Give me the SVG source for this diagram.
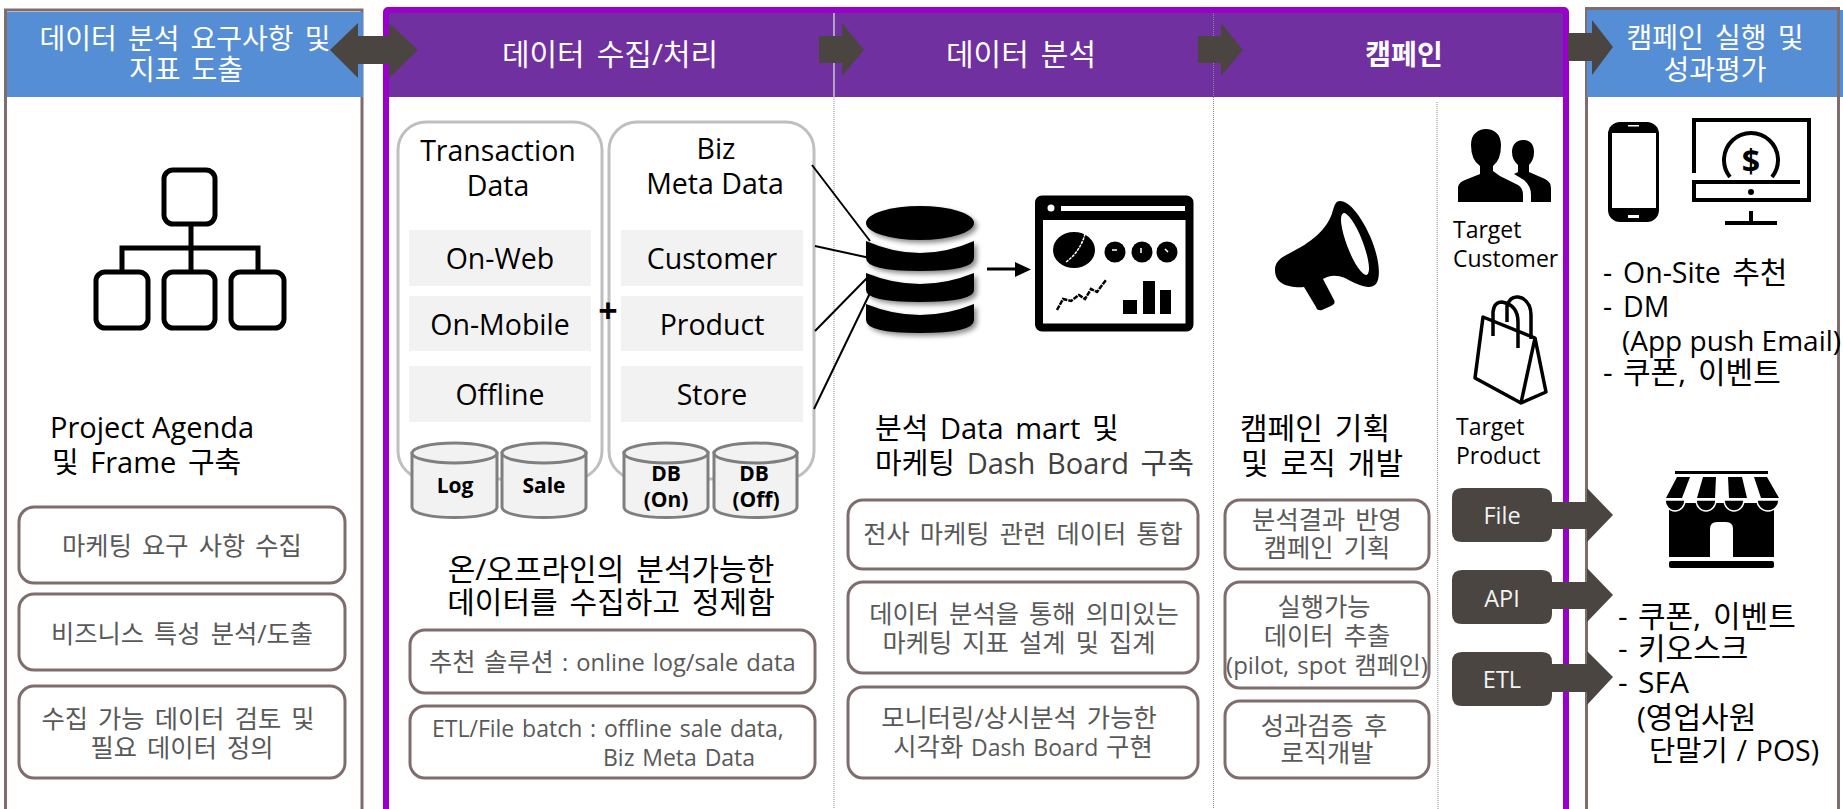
<svg xmlns="http://www.w3.org/2000/svg" width="1843" height="809" viewBox="0 0 1843 809">
<style>
text{font-family:"Open Sans","Noto Sans CJK KR",sans-serif;fill:#000;word-spacing:.14em}
.m{text-anchor:middle}
.hd{font-size:28px;fill:#fff}
.hc{font-size:30px;fill:#fff}
.la{font-size:28.5px;word-spacing:0}
.ko{font-size:30px}
.t23{font-size:23px;fill:#595959;word-spacing:.08em}
.t25{font-size:25.3px;fill:#595959}
.hg{font-size:25.3px}
.t24{font-size:23px;word-spacing:0}
.lb{font-size:21px;font-weight:700;text-anchor:middle;word-spacing:0}
.wh{font-size:23.500px;fill:#f2f2f2;text-anchor:middle;word-spacing:0}
.box{fill:#fff;stroke:#7f6d6d;stroke-width:3}
.cell{fill:#f2f2f2}
.pan{fill:#fff;stroke:#bfbfbf;stroke-width:3}
.cyl{fill:#f2f2f2;stroke:#7f7f7f;stroke-width:3}
.sep{stroke:#8c8c8c;stroke-width:1;stroke-dasharray:1 1;fill:none}
.ar{fill:#4b4541}
.ln{stroke:#000;stroke-width:2;fill:none}
.ic{fill:none;stroke:#000;stroke-width:5}
</style>
<defs>
<filter id="sh" x="-20%" y="-20%" width="150%" height="150%"><feDropShadow dx="3" dy="3" stdDeviation="2.5" flood-color="#000" flood-opacity=".45"/></filter>
</defs>
<rect width="1843" height="809" fill="#fff"/>

<g id="panel-requirements">
<rect x="5.500" y="10" width="356.500" height="810" fill="#fff" stroke="#7f6d6d" stroke-width="3"/>
<rect x="7" y="12" width="356" height="85" fill="#558ed5"/>
<text class="hd m" x="185" y="49">데이터 분석 요구사항 및</text>
<text class="hd m" x="186" y="80">지표 도출</text>
<g id="icon-org" class="ic">
<rect x="164" y="170" width="51" height="54" rx="9"/>
<rect x="96" y="272" width="52" height="56" rx="9"/>
<rect x="164" y="272" width="51" height="56" rx="9"/>
<rect x="231" y="272" width="53" height="56" rx="9"/>
<path d="M191 224V272M122 272V248H258V272"/>
</g>
<text class="la" x="50" y="438" style="font-size:29px">Project Agenda</text>
<text class="ko" x="52" y="473" style="font-size:29px">및 Frame 구축</text>
<rect class="box" x="19" y="507" width="326" height="76" rx="15"/>
<text class="t25 m" x="182" y="555">마케팅 요구 사항 수집</text>
<rect class="box" x="19" y="594" width="326" height="76" rx="15"/>
<text class="t25 m" x="182" y="643">비즈니스 특성 분석/도출</text>
<rect class="box" x="19" y="686" width="326" height="92" rx="15"/>
<text class="t25 m" x="178" y="728">수집 가능 데이터 검토 및</text>
<text class="t25 m" x="182" y="757">필요 데이터 정의</text>
</g>

<g id="panel-process">
<rect x="386" y="10" width="1180" height="810" rx="2" fill="#fff" stroke="#9900cc" stroke-width="6"/>
<rect x="389" y="13" width="1174" height="84" fill="#7030a0"/>
<path d="M834 13V97" stroke="#c9c9c9" stroke-width="1.500"/>
<path class="sep" d="M834 97V809M1213.500 13V809M1437 102L1438 809"/>
<text class="hc m" x="610" y="65">데이터 수집/처리</text>
<text class="hc m" x="1021" y="65">데이터 분석</text>
<text class="hd m" x="1404" y="65" font-weight="700">캠페인</text>
</g>

<g id="panel-collect">
<rect class="pan" x="398" y="122" width="204" height="357" rx="28"/>
<rect class="pan" x="609" y="122" width="205" height="357" rx="28"/>
<text class="la m" x="498" y="161">Transaction</text>
<text class="la m" x="498" y="196">Data</text>
<text class="la m" x="716" y="159">Biz</text>
<text class="la m" x="715" y="194">Meta Data</text>
<rect class="cell" x="409" y="230" width="182" height="56"/><text class="la m" x="500" y="269">On-Web</text>
<rect class="cell" x="409" y="296" width="182" height="55"/><text class="la m" x="500" y="335">On-Mobile</text>
<rect class="cell" x="409" y="366" width="182" height="56"/><text class="la m" x="500" y="405">Offline</text>
<rect class="cell" x="621" y="230" width="182" height="56"/><text class="la m" x="712" y="269">Customer</text>
<rect class="cell" x="621" y="296" width="182" height="55"/><text class="la m" x="712" y="335">Product</text>
<rect class="cell" x="621" y="366" width="182" height="56"/><text class="la m" x="712" y="405">Store</text>
<text class="m" x="608" y="323" font-size="34" font-weight="700">+</text>
<g id="cyl-log"><path class="cyl" d="M412 453V507C412 521 497 521 497 507V453Z"/><ellipse class="cyl" cx="454.500" cy="453" rx="42.500" ry="10"/><text class="lb" x="455" y="493">Log</text></g>
<g id="cyl-sale"><path class="cyl" d="M502 453V507C502 521 586 521 586 507V453Z"/><ellipse class="cyl" cx="544" cy="453" rx="42" ry="10"/><text class="lb" x="544" y="493">Sale</text></g>
<g id="cyl-dbon"><path class="cyl" d="M624 453V507C624 521 708 521 708 507V453Z"/><ellipse class="cyl" cx="666" cy="453" rx="42" ry="10"/><text class="lb" x="666" y="481">DB</text><text class="lb" x="666" y="507">(On)</text></g>
<g id="cyl-dboff"><path class="cyl" d="M714 453V507C714 521 797 521 797 507V453Z"/><ellipse class="cyl" cx="755.500" cy="453" rx="41.500" ry="10"/><text class="lb" x="754" y="481">DB</text><text class="lb" x="756" y="507">(Off)</text></g>
<text class="ko m" x="611" y="580">온/오프라인의 분석가능한</text>
<text class="ko m" x="611" y="613">데이터를 수집하고 정제함</text>
<rect class="box" x="410" y="630" width="405" height="63" rx="15"/>
<text class="t23" x="429" y="671" style="font-size:23.700px"><tspan class="hg">추천 솔루션</tspan> : online log/sale data</text>
<rect class="box" x="410" y="706" width="405" height="72" rx="15"/>
<text class="t23" x="432" y="737">ETL/File batch : offline sale data,</text>
<text class="t23" x="603" y="766">Biz Meta Data</text>
</g>

<g id="panel-analysis">
<g id="icon-db" filter="url(#sh)">
<ellipse cx="920" cy="223" rx="54" ry="17"/>
<path d="M866 241Q920 265 974 241V258Q974 271 920 271Q866 271 866 258Z"/>
<path d="M866 273Q920 295 974 273V290Q974 302 920 302Q866 302 866 290Z"/>
<path d="M866 304Q920 326 974 304V320Q974 333 920 333Q866 333 866 320Z"/>
</g>
<g id="icon-dash">
<rect x="1039" y="199.500" width="150.500" height="128" rx="3" fill="#fff" stroke="#000" stroke-width="8"/>
<rect x="1040" y="200" width="148" height="20"/>
<rect x="1061" y="206" width="124" height="5" fill="#fff"/>
<circle cx="1051" cy="208" r="3.500" fill="#fff"/>
<ellipse cx="1074" cy="250" rx="21" ry="18"/>
<path d="M1066 262Q1080 252 1085 234" stroke="#fff" stroke-width="1.500" stroke-dasharray="3 1" fill="none"/>
<circle cx="1115" cy="252" r="10.500"/><circle cx="1142" cy="252" r="10.500"/><circle cx="1167" cy="252" r="10.500"/>
<path d="M1112 250h5M1141 248v5M1165 249l3 3" stroke="#fff" stroke-width="1.500"/>
<path d="M1057 310L1063 299L1071 301L1079 295L1085 299L1091 289L1097 292L1106 280" fill="none" stroke="#000" stroke-width="2.500" stroke-dasharray="5 1"/>
<rect x="1123" y="300" width="14" height="14"/><rect x="1143" y="281" width="12" height="33"/><rect x="1160" y="290" width="11" height="24"/>
</g>
<text class="ko" x="875" y="439" style="font-size:29px">분석 Data mart 및</text>
<text class="ko" x="875" y="474" style="font-size:29px">마케팅 <tspan fill="#404040">Dash Board 구축</tspan></text>
<rect class="box" x="848" y="500" width="350" height="69" rx="15"/>
<text class="t25 m" x="1023" y="543">전사 마케팅 관련 데이터 통합</text>
<rect class="box" x="848" y="582" width="350" height="91" rx="15"/>
<text class="t25 m" x="1024" y="623">데이터 분석을 통해 의미있는</text>
<text class="t25 m" x="1019" y="652">마케팅 지표 설계 및 집계</text>
<rect class="box" x="848" y="687" width="350" height="91" rx="15"/>
<text class="t25 m" x="1019" y="727">모니터링/상시분석 가능한</text>
<text class="t23 m" x="1023" y="756"><tspan class="hg">시각화</tspan> Dash Board <tspan class="hg">구현</tspan></text>
</g>

<g id="panel-campaign">
<g id="icon-megaphone">
<path d="M1340 201C1350 201 1362 218 1370 236C1378 254 1382 276 1376 284C1370 290 1360 286 1345 278C1335 274 1328 276 1323 279L1334 300Q1336 304 1331 306L1322 310Q1317 311 1316 307L1304 287C1290 288 1275 285 1275 270C1275 262 1280 258 1290 253C1310 243 1328 230 1333 210C1335 204 1336 201 1340 201Z"/>
<ellipse cx="1355" cy="244" rx="8" ry="33" fill="#fff" transform="rotate(-21 1355 244)"/>
</g>
<text class="ko" x="1240" y="439">캠페인 기획</text>
<text class="ko" x="1241" y="474">및 로직 개발</text>
<rect class="box" x="1225" y="500" width="204" height="69" rx="15"/>
<text class="t25 m" x="1327" y="529">분석결과 반영</text>
<text class="t25 m" x="1327" y="557">캠페인 기획</text>
<rect class="box" x="1225" y="582" width="204" height="106" rx="15"/>
<text class="t25 m" x="1324" y="616">실행가능</text>
<text class="t25 m" x="1327" y="645">데이터 추출</text>
<text class="t23 m" x="1327" y="674" style="font-size:24px">(pilot, spot 캠페인)</text>
<rect class="box" x="1225" y="701" width="204" height="77" rx="15"/>
<text class="t25 m" x="1324" y="735">성과검증 후</text>
<text class="t25 m" x="1327" y="762">로직개발</text>
<g id="icon-people">
<path d="M1458 202V187Q1459 182 1465 180L1480 174V166Q1471 160 1471 145C1471 134 1478 129 1486 129C1494 129 1501 134 1501 145Q1501 160 1493 166V171Q1500 177 1508 180L1518 185Q1523 188 1523 195V202Z"/>
<path d="M1531 202V195Q1531 186 1524 180L1514 174L1518 172V165Q1512 160 1512 152C1512 144 1517 140 1523 140C1530 140 1534 144 1534 152Q1534 160 1529 165V172L1545 179Q1551 182 1551 188V202Z"/>
</g>
<text class="t24" x="1453" y="238">Target</text>
<text class="t24" x="1453" y="267">Customer</text>
<g id="icon-bag" fill="none" stroke="#000" stroke-width="3.500" stroke-linejoin="round">
<path d="M1483 317L1535 338L1546 392L1521 403L1475 378Z"/>
<path d="M1535 338L1521 403"/>
<path d="M1493 336V312Q1494 302 1502 302Q1518 305 1518 322V348"/>
<path d="M1507 322V306Q1510 296 1518 297L1522 298Q1531 303 1531 315V339"/>
</g>
<text class="t24" x="1456" y="435">Target</text>
<text class="t24" x="1456" y="464">Product</text>
</g>

<g id="panel-execute">
<path d="M1586.500 820V8.500H1838.500V820" fill="none" stroke="#7f6d6d" stroke-width="3"/>
<rect x="1587" y="10" width="256" height="87" fill="#558ed5"/>
<rect x="1837" y="7" width="3" height="90" fill="#7f6d6d"/>
<text class="hd m" x="1715" y="48">캠페인 실행 및</text>
<text class="hd m" x="1715" y="80">성과평가</text>
<g id="icon-phone">
<rect x="1608" y="122" width="51" height="100" rx="12"/>
<rect x="1612" y="133" width="44" height="75" fill="#fff"/>
<rect x="1628" y="125" width="11" height="1.500" fill="#fff"/>
<rect x="1628" y="215" width="11" height="3" fill="#fff"/>
</g>
<g id="icon-monitor" fill="none" stroke="#000" stroke-width="4">
<path d="M1694 173V120H1809V200H1694V182H1800"/>
<path d="M1730 177A27 27 0 1 1 1772 177"/>
<path d="M1751 211V223M1725 223H1777"/>
<circle cx="1751" cy="192" r="3" fill="#000" stroke="none"/>
<text class="m" x="1751" y="173" font-size="32" font-weight="700" fill="#000" stroke="none">$</text>
</g>
<text style="font-size:28.500px"><tspan x="1603" y="283">-</tspan><tspan x="1623" y="283">On-Site <tspan font-size="30">추천</tspan></tspan></text>
<text class="la"><tspan x="1603" y="317">-</tspan><tspan x="1623" y="317">DM</tspan></text>
<text class="la" x="1622" y="351" style="font-size:28px">(App push Email)</text>
<text class="ko"><tspan x="1603" y="383">-</tspan><tspan x="1623" y="383">쿠폰, 이벤트</tspan></text>
<g id="icon-store">
<rect x="1675" y="471" width="93" height="3"/>
<path d="M1677 477H1690L1682 498H1666Z"/><path d="M1703 477H1716L1715 498H1697Z"/><path d="M1728 477H1742L1747 498H1729Z"/><path d="M1754 477H1767L1779 498H1761Z"/>
<rect x="1669" y="503" width="105" height="54"/>
<g stroke="#fff" stroke-width="1.500"><path d="M1665 500H1685A10 11 0 0 1 1665 500Z"/><path d="M1696 500H1716A10 11 0 0 1 1696 500Z"/><path d="M1724 500H1744A10 11 0 0 1 1724 500Z"/><path d="M1757 500H1779A11 11 0 0 1 1757 500Z"/></g>
<path d="M1710 557V529Q1710 522 1717 522H1726Q1733 522 1733 529V557Z" fill="#fff"/>
<rect x="1669" y="561" width="105" height="7" rx="2"/>
</g>
<text class="ko"><tspan x="1618" y="627">-</tspan><tspan x="1638" y="627">쿠폰, 이벤트</tspan></text>
<text class="ko"><tspan x="1618" y="659">-</tspan><tspan x="1638" y="659">키오스크</tspan></text>
<text class="ko"><tspan x="1618" y="693">-</tspan><tspan x="1638" y="693">SFA</tspan></text>
<text class="ko" x="1637" y="728">(영업사원</text>
<text class="ko" x="1649" y="761" style="font-size:28.500px;word-spacing:.05em">단말기 / POS)</text>
</g>

<g id="connectors">
<path class="ln" d="M812 165L870 241M815 246L870 258M815 331L867 278M814 409L870 293"/>
<path d="M987 269H1018" stroke="#000" stroke-width="3"/><path d="M1015 262L1031 269.500L1015 277Z"/>
<path class="ar" d="M330 50L358 23V36H389V23L418 50L389 78V64H358V78Z"/>
<path class="ar" d="M819 36H842V23L864 50L842 76V63H819Z"/>
<path class="ar" d="M1198 36H1221V23L1243 50L1221 76V63H1198Z"/>
<path class="ar" d="M1568 33H1592V20L1613 47L1592 75V61H1568Z"/>
<g id="link-file"><path class="ar" d="M1462 488H1542Q1552 488 1552 498V502H1587V488L1613 515L1587 542V529H1552V532Q1552 542 1542 542H1462Q1452 542 1452 532V498Q1452 488 1462 488Z"/><text class="wh" x="1502" y="524">File</text></g>
<g id="link-api"><path class="ar" d="M1462 570H1542Q1552 570 1552 580V582H1587V568L1613 595L1587 622V609H1552V614Q1552 624 1542 624H1462Q1452 624 1452 614V580Q1452 570 1462 570Z"/><text class="wh" x="1502" y="607">API</text></g>
<g id="link-etl"><path class="ar" d="M1462 652H1542Q1552 652 1552 662V664H1587V651L1613 677L1587 705V692H1552V696Q1552 706 1542 706H1462Q1452 706 1452 696V662Q1452 652 1462 652Z"/><text class="wh" x="1502" y="688">ETL</text></g>
</g>
</svg>
